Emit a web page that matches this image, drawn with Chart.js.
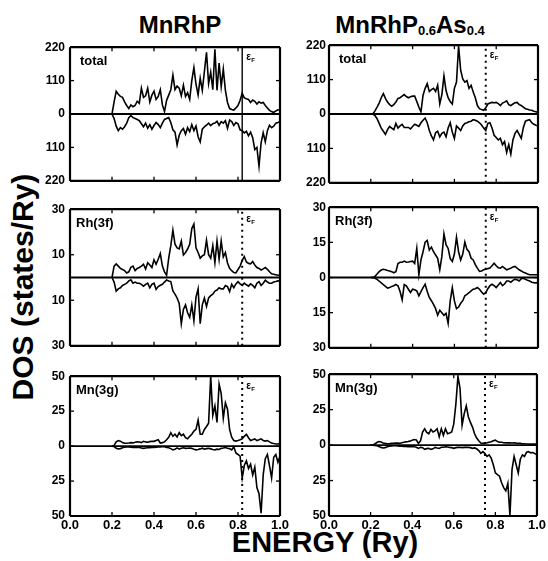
<!DOCTYPE html>
<html>
<head>
<meta charset="utf-8">
<script src="https://cdn.jsdelivr.net/npm/chart.js@4.4.1/dist/chart.umd.min.js"></script>
<style>
  body { margin: 0; background: #fff; }
  #fig { position: relative; width: 548px; height: 561px; overflow: hidden; font-family: "Liberation Sans", Arial, sans-serif; color: #000; }
  canvas { position: absolute; }
  .title { position: absolute; font-weight: bold; font-size: 24px; line-height: 1; white-space: nowrap; transform: translateX(-50%); }
  .title sub { font-size: 13px; vertical-align: baseline; position: relative; top: 2px; }
  #ylab { position: absolute; left: -127px; top: 270px; width: 300px; height: 34px; line-height: 34px; text-align: center;
          font-weight: bold; font-size: 30px; transform: rotate(-90deg); white-space: nowrap; }
  #xlab { position: absolute; left: 325px; top: 528px; transform: translateX(-50%); font-weight: bold; font-size: 29px; line-height: 1; white-space: nowrap; }
</style>
</head>
<body>
<div id="fig">
  <div class="title" style="left:180px; top:13px;">MnRhP</div>
  <div class="title" style="left:410px; top:13px;">MnRhP<sub>0.6</sub>As<sub>0.4</sub></div>
  <div id="ylab">DOS (states/Ry)</div>
  <div id="xlab">ENERGY (Ry)</div>
  <canvas id="c1" width="295" height="158" style="left:0; top:35px;"></canvas>
  <canvas id="c2" width="258" height="158" style="left:290px; top:35px;"></canvas>
  <canvas id="c3" width="295" height="161" style="left:0; top:197px;"></canvas>
  <canvas id="c4" width="258" height="161" style="left:290px; top:197px;"></canvas>
  <canvas id="c5" width="295" height="174" style="left:0; top:364px;"></canvas>
  <canvas id="c6" width="258" height="174" style="left:290px; top:364px;"></canvas>
</div>
<script>
// energia (Ry), paso 0.01
const energy = [
  0.20, 0.21, 0.22, 0.23, 0.24, 0.25, 0.26, 0.27, 0.28, 0.29,
  0.30, 0.31, 0.32, 0.33, 0.34, 0.35, 0.36, 0.37, 0.38, 0.39,
  0.40, 0.41, 0.42, 0.43, 0.44, 0.45, 0.46, 0.47, 0.48, 0.49,
  0.50, 0.51, 0.52, 0.53, 0.54, 0.55, 0.56, 0.57, 0.58, 0.59,
  0.60, 0.61, 0.62, 0.63, 0.64, 0.65, 0.66, 0.67, 0.68, 0.69,
  0.70, 0.71, 0.72, 0.73, 0.74, 0.75, 0.76, 0.77, 0.78, 0.79,
  0.80, 0.81, 0.82, 0.83, 0.84, 0.85, 0.86, 0.87, 0.88, 0.89,
  0.90, 0.91, 0.92, 0.93, 0.94, 0.95, 0.96, 0.97, 0.98, 0.99,
  1.00];

// MnRhP
const totalUpP = [
  0, 40, 75, 65, 58, 55, 40, 28, 18, 30,
  24, 28, 42, 35, 85, 55, 60, 85, 40, 62,
  75, 48, 58, 80, 30, 8, 45, 62, 80, 128,
  80, 92, 85, 60, 95, 58, 70, 48, 110, 153,
  98, 63, 118, 78, 140, 203, 100, 138, 80, 213,
  78, 168, 90, 148, 78, 38, 18, 15, 13, 20,
  28, 45, 68, 53, 50, 48, 38, 46, 42, 33,
  40, 36, 38, 28, 20, 12, 8, 5, 10, 14,
  12];
const totalDnP = [
  0, -15, -40, -55, -45, -50, -42, -30, -12, -5,
  -12, -15, -18, -22, -32, -42, -30, -47, -35, -50,
  -38, -28, -35, -45, -30, -18, -15, -12, -28, -52,
  -60, -102, -70, -55, -48, -67, -45, -58, -35, -55,
  -40, -75, -92, -50, -42, -37, -30, -38, -32, -30,
  -24, -37, -25, -30, -22, -47, -20, -25, -38, -28,
  -32, -52, -55, -62, -57, -72, -60, -78, -117, -110,
  -172, -95, -62, -92, -55, -37, -45, -40, -30, -28,
  -25];
const rhUpP = [
  0, 5, 6, 5, 4, 3.5, 3, 2, 2.5, 4.5,
  5, 3, 4, 4.4, 5, 5.8, 3.7, 6.5, 5.5, 4.4,
  7.8, 5.8, 8, 10.5, 5, 2.5, 1, 8.5, 14, 20.8,
  14.6, 13, 12.6, 16, 9.9, 11, 12.5, 14.6, 21.5, 23.5,
  13, 11, 8.5, 9.5, 10, 16.3, 10, 8.5, 14, 6.5,
  16, 8, 16, 9, 11, 6.4, 4, 3, 2.2, 2,
  3.5, 5, 7.5, 9.2, 6.8, 6.2, 6, 7, 5.5, 4.4,
  4, 3.3, 3.8, 4.4, 3.6, 2.5, 1.6, 1.4, 1.2, 1,
  1];
const rhDnP = [
  0, -2, -6, -5, -4.5, -3.5, -3, -2.5, -1.5, -1,
  -2.5, -2, -2.5, -2.5, -3, -3.8, -3, -2.5, -4.5, -3,
  -2.5, -5.2, -4, -3.4, -3, -2, -1.1, -1.5, -1.8, -5.9,
  -7.3, -9, -11.4, -20.3, -14, -12, -15.5, -17.5, -12, -19,
  -8.6, -5, -20.3, -12, -9, -12.7, -9, -8, -7.3, -6,
  -5.5, -4.5, -5, -5, -3.5, -4, -6.2, -3, -4.5, -2.8,
  -1.8, -2.8, -3.5, -2.5, -3.2, -3.8, -2.8, -3.5, -4.5, -2.5,
  -1.8, -3.5, -2.5, -1.2, -2, -2.5, -2.5, -2, -1.8, -1.5,
  -1.5];
const mnUpP = [
  0, 0.5, 3, 4, 3.5, 2.5, 2, 2, 2.2, 2.5,
  2.3, 2.8, 3, 2.9, 2.5, 3.4, 3, 2.8, 3.2, 3.5,
  3.4, 4, 4.5, 2.2, 2.5, 3, 4.5, 6.3, 9.6, 7,
  8.5, 6.5, 9.6, 7.5, 8.5, 6, 5.2, 7, 8.5, 10.8,
  12, 18.6, 8.5, 8.5, 11.9, 14, 16.4, 50, 22, 28.7,
  17, 44.4, 37.6, 20, 31, 26.4, 11.9, 6.3, 4, 3.6,
  4, 4.5, 5.2, 7, 8.5, 6, 4, 4.5, 5.2, 4,
  4.5, 5.2, 4, 3.6, 4, 3, 2.2, 1.8, 1.5, 1.5,
  1.8];
const mnDnP = [
  0, -0.3, -1.5, -2, -1.8, -1.2, -0.8, -0.6, -0.6, -0.8,
  -0.9, -0.8, -0.9, -1, -1.3, -1.6, -1.4, -1.2, -1.1, -1,
  -1, -0.8, -0.6, -0.6, -0.5, -0.5, -0.9, -1.2, -1.8, -2.7,
  -2.2, -1.3, -2.2, -1.5, -1.2, -1.6, -1.5, -1.4, -1.6, -2.2,
  -2.7, -2.4, -2, -1.5, -2.2, -1.8, -1.6, -2, -2.4, -2.7,
  -2.2, -2.4, -1.6, -1.4, -1, -1.6, -1.8, -2.7, -0.5, -4.9,
  -6, -7.2, -22.8, -13.9, -10.5, -16, -13, -20.6, -15, -29.6,
  -34, -48, -20.6, -9, -6, -13.9, -22.8, -8, -6, -11.6,
  -7];

// MnRhP0.6As0.4
const totalUpAs = [
  0, 0, 10, 22, 35, 52, 65, 50, 38, 30,
  25, 30, 38, 50, 52, 57, 62, 56, 52, 55,
  57, 57, 40, 22, 7, 60, 82, 97, 72, 78,
  82, 72, 92, 32, 62, 122, 75, 52, 40, 32,
  82, 102, 218, 140, 112, 102, 107, 82, 92, 70,
  52, 27, 17, 14, 12, 20, 32, 35, 37, 36,
  37, 33, 27, 35, 38, 42, 30, 27, 32, 36,
  37, 30, 27, 22, 17, 15, 13, 12, 9, 7,
  5];
const totalDnAs = [
  0, 0, -5, -15, -30, -45, -55, -65, -50, -40,
  -45, -50, -30, -45, -38, -33, -43, -43, -43, -48,
  -40, -33, -36, -40, -28, -20, -13, -28, -53, -70,
  -83, -60, -55, -73, -62, -58, -73, -45, -28, -58,
  -78, -38, -45, -53, -38, -30, -28, -25, -23, -18,
  -20, -23, -28, -35, -45, -53, -30, -28, -45, -68,
  -75, -83, -78, -98, -88, -123, -98, -128, -83, -62,
  -53, -65, -78, -43, -23, -20, -18, -28, -33, -36,
  -38];
const rhUpAs = [
  0, 0, 0.5, 1.5, 2.5, 3.2, 3.5, 3.3, 3, 2.8,
  2.5, 2, 2.5, 6, 6.5, 6.5, 7, 6.5, 6.6, 6.8,
  7, 6, 12.4, 1.2, 7.5, 11, 15.1, 15.8, 11.7, 13,
  11, 9.6, 8.2, 3.3, 9, 18.6, 14, 12.4, 8, 6.8,
  10, 17.2, 11, 7.5, 10, 15.1, 12, 11, 8.2, 7.5,
  5.5, 4, 2.6, 2.8, 3.3, 3.5, 3.8, 4, 5, 6.1,
  5, 4.2, 4, 4.7, 4, 3.3, 3.6, 4, 4.5, 4.7,
  4, 3.3, 2.8, 2.2, 1.9, 1.5, 1.2, 1.2, 1.2, 1.2,
  1.2];
const rhDnAs = [
  0, 0, -0.3, -0.8, -1.5, -2.3, -3, -3.8, -4.5, -4.3,
  -3.8, -3.5, -3, -3.5, -6, -9.5, -3, -3.6, -5, -6.4,
  -5, -5.2, -5.7, -7.8, -6, -4.3, -2.9, -6, -8.5, -9.9,
  -11.5, -13.3, -16.1, -14, -15, -16.1, -15.3, -19.6, -10, -4.3,
  -10, -13.3, -12.6, -11, -9.9, -7.8, -7.2, -6.5, -5.7, -5,
  -4.8, -4.3, -5, -6.2, -7.1, -6.5, -4.8, -3.5, -2.9, -3.5,
  -4.3, -3.2, -2.2, -3.5, -2.8, -1.5, -1.5, -2, -1.2, -0.8,
  -1, -1.5, -0.5, -0.3, -0.8, -1.2, -1.5, -2, -2.2, -2.3,
  -2.2];
const mnUpAs = [
  0, 0, 0.8, 1.8, 2.5, 2.2, 1.5, 1.2, 1, 1,
  1.2, 1.3, 1.5, 1.4, 1.2, 1.6, 2, 2.3, 2.5, 2.8,
  3.5, 3.9, 3.6, 1.2, 3, 9.2, 11.5, 9, 8, 11,
  9.2, 10, 11.5, 5.8, 11.5, 6.9, 11.5, 8, 8.5, 9.2,
  15, 28.9, 48.5, 40, 14, 22, 27.7, 20, 16, 12.7,
  8, 5, 3, 1.5, 1.2, 1.4, 1.6, 2, 2.3, 3,
  3.5, 2.5, 2, 2, 1.7, 1.6, 1.6, 1.6, 1.5, 1.6,
  1.4, 1.3, 1.2, 1, 0.9, 0.8, 0.8, 0.7, 0.7, 0.7,
  0.7];
const mnDnAs = [
  0, 0, -0.3, -0.5, -1, -1.6, -2, -1.8, -1.2, -0.8,
  -0.6, -0.5, -0.5, -0.6, -0.7, -0.8, -1, -1, -1.1, -1.2,
  -1.2, -1.2, -1.5, -2.3, -1.6, -1.8, -3, -2.5, -2.3, -3,
  -2.6, -1.6, -2, -2.3, -1.5, -1.5, -1.2, -1.3, -1.6, -1.8,
  -2.3, -1.8, -1.6, -1.5, -1.8, -1.6, -1.5, -1.6, -1.8, -2.3,
  -2, -2.6, -3.9, -5.8, -4.6, -6, -8, -6.9, -9.2, -13.9,
  -19.6, -20.8, -21.9, -26.6, -30, -32.3, -27, -49.7, -17.3, -8,
  -13.9, -19.6, -10, -6.9, -8, -5, -4.6, -5.5, -5.2, -6,
  -6.9];

// ticks y niveles de Fermi
const energyTicks = [0, 0.2, 0.4, 0.6, 0.8, 1.0];
const totalTicks = [-220, -110, 0, 110, 220];
const rhTicksP = [-30, -10, 10, 30];
const rhTicksAs = [-30, -15, 0, 15, 30];
const mnTicks = [-50, -25, 0, 25, 50];
const efP = 0.82;
const efAs = 0.75;

Chart.defaults.font.family = '"Liberation Sans", Arial, sans-serif';
Chart.defaults.color = '#000';

// marco, linea de cero, marcas hacia dentro y etiquetas del panel
const marcoPlugin = {
  id: 'marco',
  afterDraw(chart) {
    const opts = chart.config.options.marco;
    const ctx = chart.ctx;
    const a = chart.chartArea;
    const x = chart.scales.x, y = chart.scales.y;
    ctx.save();
    ctx.setLineDash([]);
    ctx.globalAlpha = 1;
    ctx.strokeStyle = '#000';
    ctx.fillStyle = '#000';
    const seg = (x1, y1, x2, y2, w) => {
      ctx.lineWidth = w;
      ctx.beginPath(); ctx.moveTo(x1, y1); ctx.lineTo(x2, y2); ctx.stroke();
    };
    const y0 = y.getPixelForValue(0);
    seg(a.left, y0, a.right, y0, 1.8);
    energyTicks.forEach(v => {
      const px = x.getPixelForValue(v);
      seg(px, a.bottom, px, a.bottom - 4, 1.3);
      seg(px, a.top, px, a.top + 4, 1.3);
    });
    opts.yTicks.forEach(v => {
      const py = y.getPixelForValue(v);
      seg(a.left, py, a.left + 4, py, 1.3);
      seg(a.right, py, a.right - 4, py, 1.3);
    });
    // borde del panel
    seg(a.left, a.top, a.right, a.top, 2.2);
    seg(a.right, a.top, a.right, a.bottom, 2.2);
    seg(a.right, a.bottom, a.left, a.bottom, 2.2);
    seg(a.left, a.bottom, a.left, a.top, 2.2);
    ctx.font = 'bold 13px "Liberation Sans", Arial, sans-serif';
    ctx.textBaseline = 'alphabetic';
    ctx.textAlign = 'left';
    ctx.fillText(opts.label, a.left + opts.labelDx, a.top + 18);
    const ex = x.getPixelForValue(opts.ef);
    ctx.font = 'bold 10px "Liberation Sans", Arial, sans-serif';
    ctx.fillText('\u03b5', ex + 4, a.top + 13);
    ctx.font = 'bold 6px "Liberation Sans", Arial, sans-serif';
    ctx.fillText('F', ex + 9, a.top + 15);
    ctx.restore();
  }
};

function panel(id, up, down, ef, efSolid, ymax, yTicks, label, bottomRow, leftCol) {
  const linea = { borderColor: '#000', borderWidth: 1.6, pointRadius: 0, tension: 0, fill: false };
  new Chart(document.getElementById(id), {
    type: 'line',
    data: {
      datasets: [
        { ...linea, data: energy.map((e, i) => ({ x: e, y: up[i] })) },
        { ...linea, data: energy.map((e, i) => ({ x: e, y: down[i] })) },
        { ...linea, borderWidth: efSolid ? 1.4 : 2, borderDash: efSolid ? [] : [2, 4],
          data: [{ x: ef, y: -ymax }, { x: ef, y: ymax }] }
      ]
    },
    options: {
      responsive: false,
      animation: false,
      devicePixelRatio: 1,
      marco: { yTicks: yTicks, label: label, ef: ef, labelDx: label === 'total' ? 10 : 6 },
      layout: { padding: { left: 0, right: leftCol ? 15 : 10, top: 8, bottom: bottomRow ? 0 : 8 } },
      plugins: {
        legend: { display: false },
        tooltip: { enabled: false }
      },
      scales: {
        x: {
          type: 'linear', min: 0, max: 1,
          afterBuildTicks: s => { s.ticks = energyTicks.map(v => ({ value: v })); },
          afterFit: s => { s.height = bottomRow ? 22 : 0; },
          grid: { display: false, drawTicks: false, tickLength: 0 },
          border: { display: false },
          ticks: { display: bottomRow, padding: 2, maxRotation: 0, autoSkip: false,
                   font: { size: 13, weight: 'bold' }, callback: v => Number(v).toFixed(1) }
        },
        y: {
          min: -ymax, max: ymax,
          afterBuildTicks: s => { s.ticks = yTicks.map(v => ({ value: v })); },
          afterFit: s => { s.width = leftCol ? 70 : 39; },
          grid: { display: false, drawTicks: false, tickLength: 0 },
          border: { display: false },
          ticks: { padding: leftCol ? 5 : 3, autoSkip: false, font: { size: 12, weight: 'bold' },
                   callback: v => String(Math.abs(v)) }
        }
      }
    },
    plugins: [marcoPlugin]
  });
}

panel('c1', totalUpP, totalDnP, efP, true, 220, totalTicks, 'total', false, true);
panel('c2', totalUpAs, totalDnAs, efAs, false, 220, totalTicks, 'total', false, false);
panel('c3', rhUpP, rhDnP, efP, false, 30, rhTicksP, 'Rh(3f)', false, true);
panel('c4', rhUpAs, rhDnAs, efAs, false, 30, rhTicksAs, 'Rh(3f)', false, false);
panel('c5', mnUpP, mnDnP, efP, false, 50, mnTicks, 'Mn(3g)', true, true);
panel('c6', mnUpAs, mnDnAs, efAs, false, 50, mnTicks, 'Mn(3g)', true, false);
</script>
</body>
</html>
